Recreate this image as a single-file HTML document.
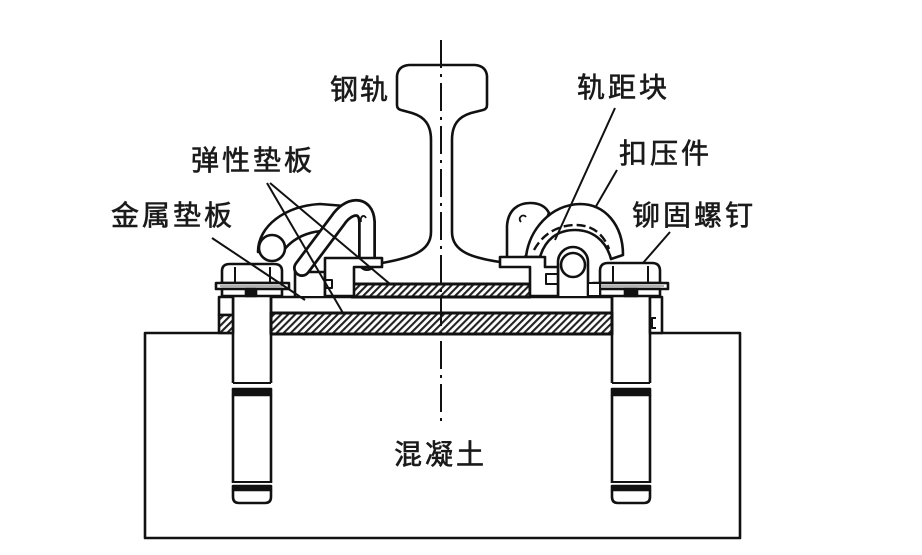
<!DOCTYPE html>
<html><head><meta charset="utf-8"><style>
html,body{margin:0;padding:0;background:#fff;}
svg{display:block;}
text{font-family:"Liberation Sans","Noto Sans CJK SC",sans-serif;font-size:28px;fill:#1a1a1a;stroke:#1a1a1a;stroke-width:0.6;letter-spacing:3px;}
</style></head><body>
<svg width="922" height="555" viewBox="0 0 922 555" xmlns="http://www.w3.org/2000/svg">
<defs>
<pattern id="h" width="5" height="5" patternUnits="userSpaceOnUse" patternTransform="rotate(45)">
<rect width="5" height="5" fill="#fff"/><line x1="1" y1="0" x2="1" y2="5" stroke="#222" stroke-width="2.2"/></pattern>
</defs>
<g fill="none" stroke="#111" stroke-width="2.6" stroke-linejoin="round">
<!-- concrete -->
<path d="M233,333 L145,333 L145,538 L740,538 L740,333 L650,333"/>
<!-- plates -->
<rect x="271" y="297" width="341" height="16" fill="#fff"/>
<rect x="271" y="313" width="341" height="21" fill="url(#h)" stroke-width="3"/>
<rect x="352" y="284" width="178" height="13" fill="url(#h)" stroke-width="3"/>
<!-- left bolt -->
<path d="M233,296 L233,383 M271,296 L271,383"/>
<line x1="233" y1="383" x2="271" y2="383" stroke-width="2"/>
<rect x="233" y="389" width="38" height="6" fill="#111"/>
<path d="M233,395 L233,483 M271,395 L271,483"/>
<line x1="233" y1="482" x2="271" y2="482" stroke-width="2"/>
<rect x="233" y="486" width="38" height="4" fill="#111"/>
<path d="M233,490 L233,497 Q233,503 239,503 L265,503 Q271,503 271,497 L271,490"/>
<!-- right bolt -->
<path d="M612,296 L612,383 M650,296 L650,383"/>
<line x1="612" y1="383" x2="650" y2="383" stroke-width="2"/>
<rect x="612" y="389" width="38" height="6" fill="#111"/>
<path d="M612,395 L612,483 M650,395 L650,483"/>
<line x1="612" y1="482" x2="650" y2="482" stroke-width="2"/>
<rect x="612" y="486" width="38" height="4" fill="#111"/>
<path d="M612,490 L612,497 Q612,503 618,503 L644,503 Q650,503 650,497 L650,490"/>
<!-- small side blocks -->
<rect x="219" y="297" width="14" height="18" fill="#fff"/>
<rect x="219" y="315" width="14" height="18" fill="url(#h)"/>
<rect x="650" y="297" width="12" height="36" fill="#fff"/>
<path d="M656,318 L652,318 L652,328 L656,328" stroke-width="2"/>
<!-- left nut -->
<path d="M222,283 L222,271 Q222,264 230,264 L274,264 Q282,264 282,271 L282,283 Z" fill="#fff"/>
<path d="M235,267 L235,283 M270,267 L270,283" stroke-width="2"/>
<rect x="216" y="283" width="73" height="6" fill="#fff"/>
<line x1="220" y1="286" x2="285" y2="286" stroke-width="1" stroke="#666"/>
<rect x="222" y="289" width="60" height="7" fill="#fff"/>
<rect x="246" y="289" width="10" height="7" fill="#111"/>
<!-- right nut -->
<path d="M600,283 L600,271 Q600,263 608,263 L652,263 Q660,263 660,271 L660,283 Z" fill="#fff"/>
<path d="M613,266 L613,283 M648,266 L648,283" stroke-width="2"/>
<rect x="593" y="283" width="75" height="6" fill="#fff"/>
<line x1="597" y1="286" x2="664" y2="286" stroke-width="1" stroke="#666"/>
<rect x="600" y="289" width="60" height="7" fill="#fff"/>
<rect x="625" y="289" width="12" height="7" fill="#111"/>
<!-- left clip -->
<path d="M295,296 L295,272 L325,272 L325,296" fill="#fff"/>
<path d="M258,252 C258,226 285,206 320,204 L345,206 L336,232 C315,228 295,236 284,250 Z" fill="#fff"/>
<path d="M302,268 L338,220 C348,205 366,202 367,222 L367,262" stroke="#111" stroke-width="18" stroke-linecap="round"/>
<path d="M302,268 L338,220 C348,205 366,202 367,222 L367,262" stroke="#fff" stroke-width="12.5" stroke-linecap="round"/>
<path d="M361,222 C360,216 364,214 366,218" stroke-width="1.8"/>
<circle cx="272" cy="248" r="13" fill="#fff"/>
<!-- left gauge block -->
<path d="M325,296 L325,267 L325,267 L325,258 L382,258 L382,267 L354,267 L354,296 Z" fill="#fff"/>
<path d="M325,280 L332,280 L332,288 L325,288" stroke-width="2"/>
<!-- right clip -->
<path d="M507,260 L507,226 C508,210 518,203 530,203 C540,203 546,207 549,213 L540,235 L525,257 Z" fill="#fff"/>
<path d="M521,222 C517,218 523,213 526,217" stroke-width="1.8"/>
<path d="M526,257 C529,230 550,205 580,204 C605,204 623,225 623,255 L611,259 C606,240 592,230 575,230 C557,230 545,240 540,257 Z" fill="#fff"/>
<path d="M534,250 C544,232 560,225 576,225 C593,225 604,235 609,249" stroke-width="2.4" stroke-dasharray="9 4"/>
<path d="M558,296 L558,262 A15,15 0 0 1 588,262 L588,296" fill="#fff"/>
<circle cx="573" cy="265" r="12" fill="#fff"/>
<rect x="588" y="283" width="12" height="13" fill="#fff" stroke-width="2"/>
<!-- right gauge block -->
<path d="M500,257 L545,257 L545,267 L558,267 L558,296 L530,296 L530,267 L500,267 Z" fill="#fff"/>
<path d="M558,274 L546,274 L546,284 L558,284" stroke-width="2"/>
<!-- rail -->
<path d="M382,263 C410,258 431,252 431,232 L431,140 C431,125 425,117 412,113 L401,110 Q397,109 397,105 L397,76 Q398,66 409,65 L475,65 Q486,66 487,76 L487,105 Q487,109 483,110 L471,113 C458,117 452,125 452,140 L452,232 C452,252 473,258 500,262"/>
<!-- leader lines -->
<g stroke-width="2">
<line x1="267" y1="183" x2="343" y2="313"/>
<line x1="270" y1="183" x2="390" y2="284"/>
<line x1="212" y1="238" x2="305" y2="300"/>
<line x1="615" y1="108" x2="555" y2="240"/>
<line x1="617" y1="170" x2="595" y2="208"/>
<line x1="670" y1="232" x2="643" y2="263"/>
</g>
<!-- center line -->
<line x1="441" y1="40" x2="441" y2="424" stroke-width="2" stroke-dasharray="28 6 3 6"/>
</g>
<text x="330" y="99" style="letter-spacing:2px">钢轨</text>
<text x="191" y="170">弹性垫板</text>
<text x="111" y="225">金属垫板</text>
<text x="577" y="97">轨距块</text>
<text x="619" y="163">扣压件</text>
<text x="632" y="225">铆固螺钉</text>
<text x="394" y="464">混凝土</text>
</svg>
</body></html>
